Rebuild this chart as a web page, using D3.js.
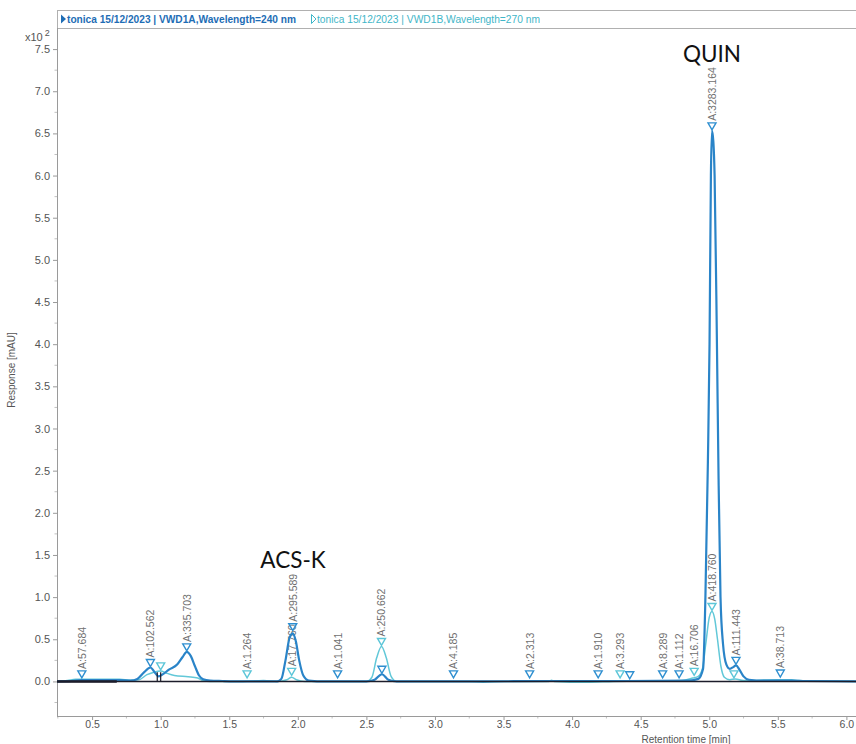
<!DOCTYPE html>
<html>
<head>
<meta charset="utf-8">
<script src="https://cdn.jsdelivr.net/npm/d3@7/dist/d3.min.js"></script>
<style>
  html, body { margin: 0; padding: 0; background: #fff; }
  svg { display: block; }
</style>
</head>
<body>
<svg id="chart" width="856" height="744"></svg>
<script>
// ---------------- DATA ----------------
const legendLabels = [
  "tonica 15/12/2023 | VWD1A,Wavelength=240 nm",
  "tonica 15/12/2023 | VWD1B,Wavelength=270 nm"
];
const xTickLabels = [0.5, 1.0, 1.5, 2.0, 2.5, 3.0, 3.5, 4.0, 4.5, 5.0, 5.5, 6.0];
const yTickLabels = [0.0, 0.5, 1.0, 1.5, 2.0, 2.5, 3.0, 3.5, 4.0, 4.5, 5.0, 5.5, 6.0, 6.5, 7.0, 7.5];

// Retention time (min) and response (x10^2 mAU)
const seriesA_t = [0.244,0.35,0.42,0.5,0.6,0.7,0.78,0.83,0.88,0.925,0.96,0.985,1.02,1.06,1.12,1.16,1.19,1.22,1.25,1.28,1.31,1.36,1.45,1.6,1.85,1.88,1.91,1.94,1.963,1.985,2.01,2.04,2.08,2.2,2.5,2.56,2.613,2.66,2.72,3.3,3.85,4.4,4.85,4.92,4.955,4.972,4.99,5.002,5.012,5.02,5.03,5.039,5.056,5.068,5.082,5.1,5.125,5.15,5.175,5.195,5.22,5.25,5.29,5.4,5.6,5.7,6.07];
const seriesA_v = [0.0,0.005,0.015,0.015,0.015,0.015,0.01,0.03,0.11,0.165,0.10,0.06,0.09,0.14,0.20,0.29,0.35,0.30,0.18,0.07,0.025,0.01,0.005,0.0,0.0,0.03,0.25,0.52,0.57,0.48,0.25,0.07,0.01,0.0,0.0,0.02,0.085,0.02,0.0,0.0,0.005,0.005,0.01,0.03,0.15,1.0,2.6,4.0,6.0,6.53,6.4,6.0,4.0,2.4,1.0,0.45,0.2,0.15,0.17,0.19,0.14,0.06,0.02,0.01,0.01,0.005,0.0];

const seriesB_t = [0.244,0.32,0.38,0.7,0.78,0.84,0.9,0.95,1.0,1.04,1.1,1.2,1.27,1.31,1.36,1.6,1.75,1.85,1.92,1.955,1.99,2.05,2.5,2.54,2.575,2.61,2.645,2.68,2.72,3.25,3.35,3.5,3.83,3.85,3.87,4.1,4.3,4.8,4.88,4.92,4.95,4.975,5.0,5.02,5.04,5.06,5.085,5.11,5.15,5.19,5.25,5.5,5.6,5.65,6.07];
const seriesB_v = [0.0,0.01,0.025,0.025,0.015,0.02,0.08,0.11,0.125,0.10,0.07,0.055,0.04,0.01,0.0,0.0,0.01,0.0,0.02,0.05,0.02,0.0,0.0,0.05,0.28,0.415,0.28,0.06,0.0,0.0,-0.01,0.0,0.0,0.015,0.0,-0.01,0.0,0.01,0.04,0.06,0.15,0.45,0.76,0.83,0.74,0.5,0.18,0.05,0.02,0.03,0.01,0.02,0.02,0.01,0.0];

// Peak markers: time, apex response, series (0 = 240 nm, 1 = 270 nm), area label
const peakT     = [0.425, 0.925, 1.0, 1.19, 1.63, 1.963, 1.955, 2.29, 2.61, 2.613, 3.135, 3.69, 4.19, 4.35, 4.42, 4.66, 4.78, 4.89, 5.02, 5.02, 5.195, 5.18, 5.518];
const peakV     = [0.03, 0.165, 0.125, 0.35, 0.03, 0.59, 0.06, 0.03, 0.415, 0.085, 0.03, 0.03, 0.03, 0.03, 0.02, 0.03, 0.03, 0.06, 6.53, 0.83, 0.19, 0.03, 0.04];
const peakS     = [0, 0, 1, 0, 1, 0, 1, 0, 1, 0, 0, 0, 0, 1, 0, 0, 0, 1, 0, 1, 0, 1, 0];
const peakLabel = ["A:57.684","A:102.562","","A:335.703","A:1.264","A:295.589","A:17.760","A:1.041","A:250.662","","A:4.185","A:2.313","A:1.910","A:3.293","","A:8.289","A:1.112","A:16.706","A:3283.164","A:418.760","A:111.443","","A:38.713"];

// Baseline event marks (time)
const eventT = [0.975, 1.0];

// Compound annotations
const compoundNames = ["ACS-K", "QUIN"];
const compoundT = [1.965, 5.02];
const compoundV = [1.35, 7.35];

// ---------------- CHART ----------------
const svg = d3.select("#chart");
const mLeft = 57, mRight = 856, mTop = 28, mBottom = 716;

const x = d3.scaleLinear().domain([0.244, 6.07]).range([mLeft, mRight]);
const y = d3.scaleLinear().domain([-0.41, 7.75]).range([mBottom, mTop]);

const colA = "#2a84c8", colB = "#62c8d8";
const axisCol = "#9a9a9a", textCol = "#555";
const fontAxis = "'Liberation Sans', Arial, sans-serif";

// Legend header
svg.append("line").attr("x1", mLeft).attr("x2", mRight).attr("y1", 10.5).attr("y2", 10.5).attr("stroke", "#b0b0b0");
svg.append("line").attr("x1", mLeft).attr("x2", mRight).attr("y1", 28.5).attr("y2", 28.5).attr("stroke", "#b0b0b0");
svg.append("line").attr("x1", mLeft + 0.5).attr("x2", mLeft + 0.5).attr("y1", 10).attr("y2", 29).attr("stroke", "#b0b0b0");

svg.append("path").attr("d", "M61,14.5 L66,19 L61,23.5 Z").attr("fill", "#1e6db5");
svg.append("text").attr("x", 67).attr("y", 23).attr("font-family", fontAxis).attr("font-size", 10)
  .attr("font-weight", "bold").attr("fill", "#1e6db5").attr("textLength", 229).attr("lengthAdjust", "spacingAndGlyphs")
  .text(legendLabels[0]);
svg.append("path").attr("d", "M311.5,14.5 L316,19 L311.5,23.5 Z").attr("fill", "none").attr("stroke", "#3fb6c8").attr("stroke-width", 1);
svg.append("text").attr("x", 317).attr("y", 23).attr("font-family", fontAxis).attr("font-size", 10)
  .attr("fill", "#3fb6c8").attr("textLength", 223).attr("lengthAdjust", "spacingAndGlyphs")
  .text(legendLabels[1]);

// Y axis
const yAxis = d3.axisLeft(y).tickValues(yTickLabels).tickFormat(d3.format(".1f")).tickSize(4).tickPadding(3);
const gy = svg.append("g").attr("transform", `translate(${mLeft},0)`).call(yAxis);
gy.select(".domain").remove();
gy.selectAll(".tick line").attr("stroke", axisCol);
gy.selectAll(".tick text").attr("fill", textCol).attr("font-size", 11).attr("font-family", fontAxis);
const yMinor = d3.range(-0.25, 7.5, 0.5);
svg.append("g").selectAll("line").data(yMinor).join("line")
  .attr("x1", mLeft - 2.5).attr("x2", mLeft).attr("y1", d => y(d)).attr("y2", d => y(d)).attr("stroke", "#c0c0c0");
svg.append("line").attr("x1", mLeft + 0.5).attr("x2", mLeft + 0.5).attr("y1", mTop).attr("y2", mBottom + 0.5).attr("stroke", axisCol);

// X axis
const xAxis = d3.axisBottom(x).tickValues(xTickLabels).tickFormat(d3.format(".1f")).tickSize(4).tickPadding(1);
const gx = svg.append("g").attr("transform", `translate(0,${mBottom})`).call(xAxis);
gx.select(".domain").remove();
gx.selectAll(".tick line").attr("stroke", axisCol);
gx.selectAll(".tick text").attr("fill", textCol).attr("font-size", 10.5).attr("font-family", fontAxis);
const xMinor = d3.range(0.25, 6.07, 0.5);
svg.append("g").selectAll("line").data(xMinor).join("line")
  .attr("x1", d => x(d)).attr("x2", d => x(d)).attr("y1", mBottom).attr("y2", mBottom + 2.5).attr("stroke", "#c0c0c0");
svg.append("line").attr("x1", mLeft).attr("x2", mRight).attr("y1", mBottom + 0.5).attr("y2", mBottom + 0.5).attr("stroke", axisCol);

// Axis titles
svg.append("text").attr("x", 686).attr("y", 743).attr("text-anchor", "middle")
  .attr("font-family", fontAxis).attr("font-size", 10).attr("fill", textCol).text("Retention time [min]");
svg.append("text").attr("transform", "translate(15,370) rotate(-90)").attr("text-anchor", "middle")
  .attr("font-family", fontAxis).attr("font-size", 10).attr("fill", textCol).text("Response [mAU]");
const mult = svg.append("text").attr("x", 25).attr("y", 41).attr("font-family", fontAxis).attr("font-size", 11).attr("fill", textCol);
mult.append("tspan").text("x10");
mult.append("tspan").attr("dx", 2).attr("dy", -5).attr("font-size", 9).text("2");

// Peak labels (drawn below the traces)
const peaks = peakT.map((t, i) => ({ t, v: peakV[i], s: peakS[i], label: peakLabel[i] }));
svg.append("g").selectAll("text").data(peaks.filter(p => p.label)).join("text")
  .attr("transform", p => `translate(${x(p.t) + 4},${y(p.v) - 10}) rotate(-90)`)
  .attr("font-family", fontAxis).attr("font-size", 10.5).attr("fill", "#707070")
  .text(p => p.label);

// Traces
const line = d3.line().x(d => x(d[0])).y(d => y(d[1])).curve(d3.curveMonotoneX);
const dataA = seriesA_t.map((t, i) => [t, seriesA_v[i]]);
const dataB = seriesB_t.map((t, i) => [t, seriesB_v[i]]);
svg.append("path").datum(dataB).attr("d", line).attr("fill", "none").attr("stroke", colB).attr("stroke-width", 1.5);
svg.append("path").datum(dataA).attr("d", line).attr("fill", "none").attr("stroke", colA).attr("stroke-width", 2.2);

// Baseline
const straight = d3.line().x(d => x(d[0])).y(d => y(d[1]));
svg.append("path").datum([[0.244, 0], [6.07, 0]]).attr("d", straight)
  .attr("stroke", "#1c1c2a").attr("stroke-width", 1.4).attr("fill", "none");
svg.append("path").datum([[0.244, 0], [0.68, 0]]).attr("d", straight)
  .attr("stroke", "#1c1c2a").attr("stroke-width", 2.6).attr("fill", "none");
svg.append("g").selectAll("line").data(eventT).join("line")
  .attr("x1", d => x(d)).attr("x2", d => x(d)).attr("y1", y(0)).attr("y2", y(0.11))
  .attr("stroke", "#1c1c2a").attr("stroke-width", 1.2);

// Markers
svg.append("g").selectAll("path").data(peaks).join("path")
  .attr("d", p => {
    const cx = x(p.t), ty = y(p.v) - 1;
    return `M${cx - 4},${ty - 7} L${cx + 4},${ty - 7} L${cx},${ty} Z`;
  })
  .attr("fill", "white").attr("fill-opacity", 0.3)
  .attr("stroke", p => p.s === 0 ? "#2f8fd0" : "#5cc6d8").attr("stroke-width", 1.4);

// Compound names
svg.append("g").selectAll("text").data(compoundNames).join("text")
  .attr("x", (d, i) => x(compoundT[i])).attr("y", (d, i) => y(compoundV[i]))
  .attr("text-anchor", "middle").attr("font-family", "Lato, 'Open Sans', sans-serif").attr("font-size", 22.5)
  .attr("fill", "#111").text(d => d);
</script>
</body>
</html>
